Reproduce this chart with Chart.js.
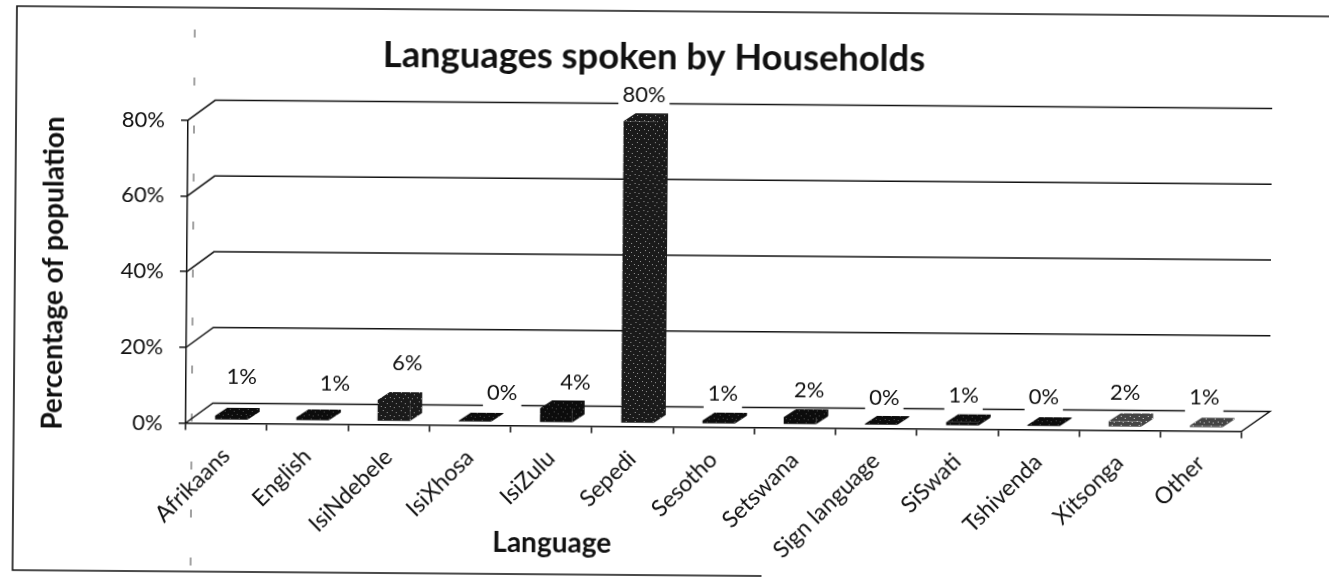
<!DOCTYPE html>
<html><head><meta charset="utf-8">
<style>
html,body{margin:0;padding:0;background:#fff;overflow:hidden;width:1329px;height:579px}
canvas{display:block;position:absolute;left:0;top:0;transform:rotate(0.45deg);transform-origin:0 0}
</style>
<script src="https://cdn.jsdelivr.net/npm/chart.js@4"></script>
</head><body>
<canvas id="c" width="1340" height="600"></canvas>
<script>
const categories=["Afrikaans","English","IsiNdebele","IsiXhosa","IsiZulu","Sepedi","Sesotho","Setswana","Sign language","SiSwati","Tshivenda","Xitsonga","Other"];
const values=[1.2,0.9,5.7,0.4,3.8,79.8,0.9,2.0,0.4,1.0,0.4,1.6,0.6];
const yTicks=[0,20,40,60,80];
const chartTitle="Languages spoken by Households";
const xTitle="Language";
const yTitle="Percentage of population";
const labelLift=[31,26,29,20,18,18,19,19,18,19,20,21,20];
const labelNudge=[3,15,6,20,12,-3,-3,2,-4,-6,-7,-7,-9];
const FONT="Lato, 'Open Sans', sans-serif";
const INK="#111";
const DEPTH_X=12, DEPTH_Y=8, SHIFT_X=5, SHIFT_Y=3;

function speckle(base,dots){
  const p=document.createElement('canvas');p.width=p.height=9;
  const g=p.getContext('2d');g.fillStyle=base;g.fillRect(0,0,9,9);
  g.fillStyle=dots;[[1,1],[5,2],[3,5],[7,7]].forEach(d=>g.fillRect(d[0],d[1],1,1));
  return g.createPattern(p,'repeat');
}
const ctx0=document.getElementById('c').getContext('2d');
const dark=speckle('#0c0c0c','#555');
const mid=speckle('#1a1a1a','#999');
const light=speckle('#444','#ddd');
const fills=[dark,dark,mid,dark,dark,mid,dark,dark,dark,dark,dark,light,light];
const labelX=(b,i)=>b.x+SHIFT_X+7+labelNudge[i];
const labelY=(b,i)=>b.y-SHIFT_Y-DEPTH_Y-labelLift[i];
const labelText=i=>Math.round(values[i])+'%';

const frame={
  id:'frame',
  beforeDraw(chart){
    const c=chart.ctx;
    c.save();c.fillStyle='#fff';c.fillRect(0,0,chart.width,chart.height);
    c.strokeStyle=INK;c.lineWidth=1.6;
    c.beginPath();c.moveTo(chart.width,6);c.lineTo(17,6);c.lineTo(17,570);c.lineTo(766,570);c.stroke();
    c.setLineDash([8,40]);c.lineWidth=1;c.strokeStyle='#444';
    c.beginPath();c.moveTo(195,28);c.lineTo(195,570);c.stroke();
    c.restore();
  }
};
const prism={
  id:'prism',
  beforeDatasetDraw(chart,args){
    const c=chart.ctx, els=chart.getDatasetMeta(args.index).data;
    c.save();c.translate(SHIFT_X,-SHIFT_Y);
    els.forEach((b,i)=>{
      const l=b.x-b.width/2,r=b.x+b.width/2,t=b.y,bt=b.base;
      c.fillStyle=fills[i];c.beginPath();
      c.moveTo(l,t);c.lineTo(l+DEPTH_X,t-DEPTH_Y);c.lineTo(r+DEPTH_X,t-DEPTH_Y);
      c.lineTo(r+DEPTH_X,bt-DEPTH_Y);c.lineTo(r,bt);c.lineTo(r,t);c.closePath();c.fill();
    });
  },
  afterDatasetDraw(chart){chart.ctx.restore();}
};
const wall={
  id:'wall',
  beforeDatasetsDraw(chart){
    const c=chart.ctx,y=chart.scales.y,a=chart.chartArea;
    c.save();c.strokeStyle=INK;c.lineWidth=1.5;
    yTicks.forEach(v=>{
      const p=y.getPixelForValue(v);
      c.beginPath();c.moveTo(a.left,p);c.lineTo(a.left+27,p-20);
      c.lineTo(a.right+28,p-20);
      if(v===0)c.lineTo(a.right,p);
      c.stroke();
    });
    c.font="22px "+FONT;c.fillStyle='#fff';
    chart.getDatasetMeta(0).data.forEach((b,i)=>{
      const w=c.measureText(labelText(i)).width+8;
      c.fillRect(labelX(b,i)-w/2,labelY(b,i)-16,w,32);
    });
    c.restore();
  }
};
const marks={
  id:'marks',
  afterDatasetsDraw(chart){
    const c=chart.ctx,els=chart.getDatasetMeta(0).data;
    c.save();c.font="22px "+FONT;c.textAlign='center';c.textBaseline='middle';c.fillStyle=INK;
    els.forEach((b,i)=>c.fillText(labelText(i),labelX(b,i),labelY(b,i)));
    c.font="bold 28px "+FONT;
    c.fillText(xTitle,556,538.7);
    c.translate(56,272.6);c.rotate(-Math.PI/2);
    c.fillText(yTitle,0,0);
    c.restore();
  }
};
const shiftTitle={id:'shiftTitle',afterLayout(chart){chart.titleBlock.left+=32;chart.titleBlock.right+=32;}};

new Chart(ctx0,{
  type:'bar',
  data:{labels:categories,datasets:[{data:values,backgroundColor:fills,barPercentage:0.4,categoryPercentage:1}]},
  plugins:[frame,wall,prism,marks,shiftTitle],
  options:{
    responsive:false,animation:false,
    layout:{padding:{left:0,right:95,top:31,bottom:0}},
    plugins:{legend:{display:false},tooltip:{enabled:false},
      title:{display:true,text:chartTitle,color:INK,font:{family:FONT,size:36.3,weight:'bold'},padding:{top:0,bottom:44}}},
    scales:{
      x:{ticks:{color:INK,font:{family:FONT,size:23},maxRotation:45,minRotation:45,autoSkip:false,padding:12},
        grid:{drawOnChartArea:false,drawTicks:true,tickLength:7,color:INK,lineWidth:1.5},
        border:{color:INK,width:1.5},
        afterFit(s){s.height=178.5;}},
      y:{min:0,max:80,afterBuildTicks(s){s.ticks=yTicks.map(v=>({value:v}));},
        ticks:{color:INK,font:{family:FONT,size:22},padding:16,callback:v=>v+'%'},
        grid:{drawOnChartArea:false,drawTicks:true,tickLength:7,color:INK,lineWidth:1.5},
        border:{color:INK,width:1.5},
        afterFit(s){s.width=189;}}
    }
  }
});
</script>
</body></html>
